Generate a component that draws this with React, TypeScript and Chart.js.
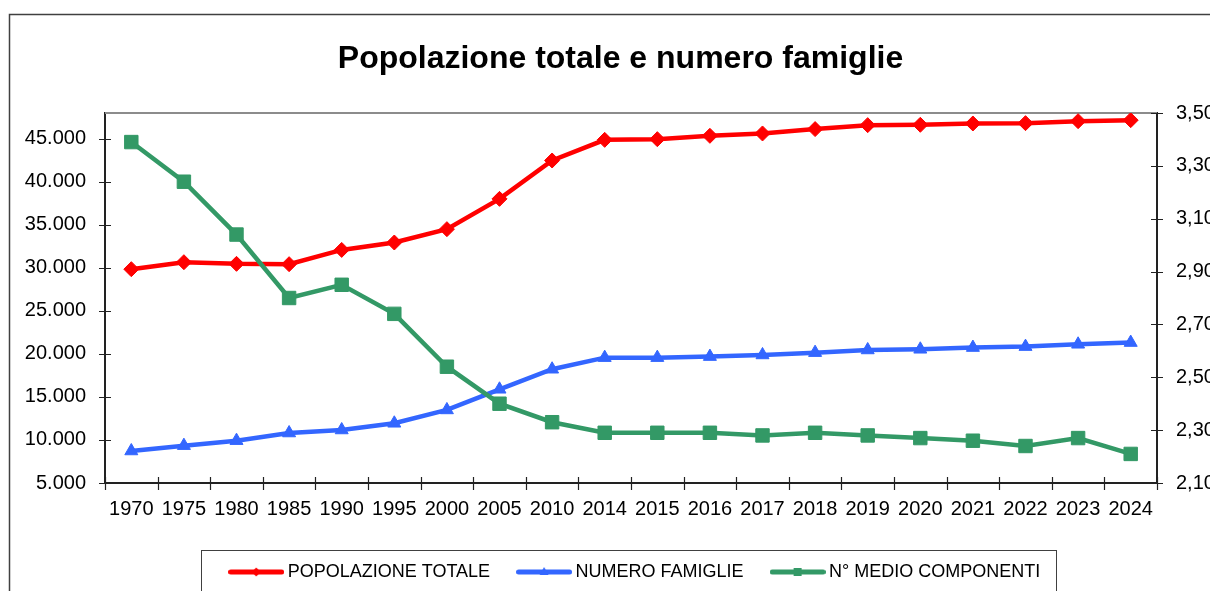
import React, { useEffect, useRef } from 'react';
import { Chart, registerables } from 'chart.js';

Chart.register(...registerables);

const FONT = '"Liberation Sans", Arial, Helvetica, sans-serif';

const titleText = 'Popolazione totale e numero famiglie';
const years = ['1970', '1975', '1980', '1985', '1990', '1995', '2000', '2005', '2010', '2014', '2015', '2016', '2017', '2018', '2019', '2020', '2021', '2022', '2023', '2024'];
const popolazioneTotale = [29850, 30660, 30470, 30430, 32090, 32950, 34500, 38020, 42480, 44880, 44960, 45350, 45620, 46130, 46590, 46630, 46780, 46820, 47050, 47170];
const numeroFamiglie = [8720, 9340, 9920, 10810, 11160, 11940, 13490, 15890, 18220, 19570, 19570, 19690, 19880, 20150, 20460, 20540, 20740, 20850, 21120, 21320];
const medioComponenti = [3.39, 3.24, 3.04, 2.80, 2.85, 2.74, 2.54, 2.40, 2.33, 2.29, 2.29, 2.29, 2.28, 2.29, 2.28, 2.27, 2.26, 2.24, 2.27, 2.21];
const seriesLabels = ['POPOLAZIONE TOTALE', 'NUMERO FAMIGLIE', 'N° MEDIO COMPONENTI'];
const seriesColors = ['#FF0000', '#3366FF', '#339966'];
const seriesShapes = ['rectRot', 'triangle', 'rect'];
const leftAxisRange = [5000, 48000];
const leftTicks = [5000, 10000, 15000, 20000, 25000, 30000, 35000, 40000, 45000];
const rightAxisRange = [2.1, 3.5];
const rightTicks = [2.1, 2.3, 2.5, 2.7, 2.9, 3.1, 3.3, 3.5];

const fmtLeft = (v: number) => String(Math.round(v)).replace(/\B(?=(\d{3})+(?!\d))/g, '.');
const fmtRight = (v: number) => v.toFixed(2).replace('.', ',');

function legendImage(color: string, shape: string) {
  const c = document.createElement('canvas');
  c.width = 56;
  c.height = 18;
  const g = c.getContext('2d')!;
  g.strokeStyle = color;
  g.lineWidth = 5;
  g.lineCap = 'round';
  g.beginPath();
  g.moveTo(2.5, 9);
  g.lineTo(53.5, 9);
  g.stroke();
  g.fillStyle = color;
  g.beginPath();
  if (shape === 'rectRot') {
    g.moveTo(28, 4.5); g.lineTo(32.5, 9); g.lineTo(28, 13.5); g.lineTo(23.5, 9);
  } else if (shape === 'triangle') {
    g.moveTo(28, 4); g.lineTo(32.5, 12); g.lineTo(23.5, 12);
  } else {
    g.rect(24, 5, 8, 8);
  }
  g.closePath();
  g.fill();
  return c;
}

const framePlugin = {
  id: 'framePlugin',
  afterLayout(chart: any) {
    const lg = chart.legend;
    if (lg) {
      lg.left += 6;
      lg.right += 6;
    }
  },
  beforeDraw(chart: any) {
    const ctx = chart.ctx;
    ctx.save();
    ctx.fillStyle = '#ffffff';
    ctx.fillRect(0, 0, chart.width, chart.height);
    ctx.strokeStyle = '#404040';
    ctx.lineWidth = 1.5;
    ctx.strokeRect(9.5, 14.5, chart.width + 60, chart.height + 60);
    ctx.restore();
  },
  beforeDatasetsDraw(chart: any) {
    const { ctx, chartArea: a, scales } = chart;
    ctx.save();
    ctx.strokeStyle = '#8c8c8c';
    ctx.lineWidth = 2;
    ctx.beginPath();
    ctx.moveTo(a.left, a.top);
    ctx.lineTo(a.right, a.top);
    ctx.stroke();

    ctx.strokeStyle = '#222';
    ctx.lineWidth = 1.2;
    ctx.beginPath();
    const ys = scales.y;
    ys.ticks.forEach((_t: any, i: number) => {
      const p = Math.round(ys.getPixelForTick(i)) + 0.5;
      ctx.moveTo(a.left - 6, p);
      ctx.lineTo(a.left + 6, p);
    });
    const y1 = scales.y1;
    y1.ticks.forEach((_t: any, i: number) => {
      const p = Math.round(y1.getPixelForTick(i)) + 0.5;
      ctx.moveTo(a.right - 6, p);
      ctx.lineTo(a.right + 6, p);
    });
    const xs = scales.x;
    for (let i = 0; i <= years.length; i++) {
      const p = Math.round(xs.getPixelForValue(i - 0.5)) + 0.5;
      ctx.moveTo(p, a.bottom - 6);
      ctx.lineTo(p, a.bottom + 7);
    }
    ctx.stroke();
    ctx.restore();
  },
  afterDraw(chart: any) {
    const lg = chart.legend;
    if (!lg || !lg.legendHitBoxes || !lg.legendHitBoxes.length) return;
    const hb = lg.legendHitBoxes;
    const first = hb[0];
    const last = hb[hb.length - 1];
    const left = first.left - 33;
    const right = last.left + last.width + 15;
    const top = lg.top + 18.5;
    const ctx = chart.ctx;
    ctx.save();
    ctx.strokeStyle = '#404040';
    ctx.lineWidth = 1;
    ctx.strokeRect(Math.round(left) + 0.5, Math.round(top) + 0.5, Math.round(right - left), 200);
    ctx.restore();
  },
};

export default function App() {
  const ref = useRef<HTMLCanvasElement | null>(null);

  useEffect(() => {
    if (!ref.current) return;
    Chart.defaults.font.family = FONT;
    const images = seriesColors.map((c, i) => legendImage(c, seriesShapes[i]));
    const seriesData = [popolazioneTotale, numeroFamiglie, medioComponenti];
    const axisIds = ['y', 'y', 'y1'];
    const radii = [7.5, 7.5, 9.5];
    const orders = [1, 2, 0];

    const chart = new Chart(ref.current, {
      type: 'line',
      data: {
        labels: years,
        datasets: seriesLabels.map((label, i) => ({
          label,
          data: seriesData[i],
          yAxisID: axisIds[i],
          borderColor: seriesColors[i],
          backgroundColor: seriesColors[i],
          pointBackgroundColor: seriesColors[i],
          pointBorderColor: seriesColors[i],
          pointBorderWidth: 1,
          pointStyle: seriesShapes[i] as any,
          pointRadius: radii[i],
          pointHoverRadius: radii[i],
          borderWidth: 4.5,
          tension: 0,
          fill: false,
          order: orders[i],
        })),
      },
      plugins: [framePlugin],
      options: {
        responsive: false,
        animation: false,
        events: [],
        layout: { padding: { left: 10, right: 10, top: 0, bottom: 0 } },
        plugins: {
          title: {
            display: true,
            text: titleText,
            color: '#000',
            font: { family: FONT, size: 32, weight: 'bold' },
            padding: { top: 40, bottom: 34.6 },
          },
          legend: {
            position: 'bottom',
            fullSize: false,
            labels: {
              usePointStyle: true,
              pointStyleWidth: 45,
              padding: 31.5,
              color: '#000',
              font: { family: FONT, size: 18 },
              generateLabels: (ch: any) => {
                const items = (Chart.defaults.plugins.legend.labels as any).generateLabels(ch);
                return items
                  .sort((a: any, b: any) => a.datasetIndex - b.datasetIndex)
                  .map((it: any) => ({ ...it, pointStyle: images[it.datasetIndex], fontColor: '#000' }));
              },
            },
          },
          tooltip: { enabled: false },
        },
        scales: {
          x: {
            type: 'category',
            offset: true,
            grid: { display: false, drawTicks: false, offset: true },
            border: { display: true, color: '#222', width: 2 },
            ticks: {
              color: '#000',
              font: { family: FONT, size: 20 },
              padding: 14,
              autoSkip: false,
              maxRotation: 0,
              minRotation: 0,
            },
            afterFit: (s: any) => { s.height = 48.5; },
          },
          y: {
            type: 'linear',
            position: 'left',
            min: leftAxisRange[0],
            max: leftAxisRange[1],
            grid: { display: false, drawTicks: false },
            border: { display: true, color: '#222', width: 2 },
            afterBuildTicks: (s: any) => { s.ticks = leftTicks.map((value) => ({ value })); },
            ticks: {
              color: '#000',
              font: { family: FONT, size: 20 },
              padding: 19,
              callback: (v: any) => fmtLeft(Number(v)),
            },
            afterFit: (s: any) => { s.width = 95; },
          },
          y1: {
            type: 'linear',
            position: 'right',
            min: rightAxisRange[0],
            max: rightAxisRange[1],
            grid: { display: false, drawTicks: false },
            border: { display: true, color: '#222', width: 2 },
            afterBuildTicks: (s: any) => { s.ticks = rightTicks.map((value) => ({ value })); },
            ticks: {
              color: '#000',
              font: { family: FONT, size: 20 },
              padding: 19,
              callback: (v: any) => fmtRight(Number(v)),
            },
            afterFit: (s: any) => { s.width = 74; },
          },
        },
      } as any,
    });
    return () => chart.destroy();
  }, []);

  return (
    <div style={{ position: 'fixed', left: 0, top: 0, width: 1210, height: 591, overflow: 'hidden', background: '#fff' }}>
      <canvas ref={ref} width={1241} height={591} style={{ display: 'block', width: 1241, height: 591 }} />
    </div>
  );
}
